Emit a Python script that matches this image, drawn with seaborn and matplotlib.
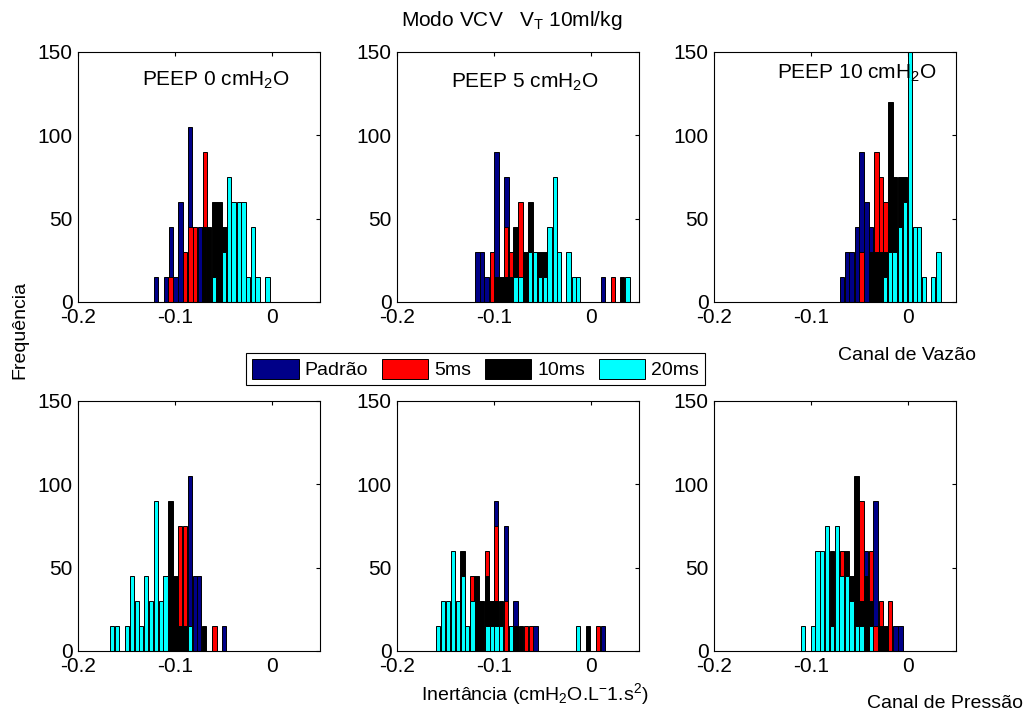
import numpy as np
import pandas as pd
import matplotlib
matplotlib.use('Agg')
import matplotlib.pyplot as plt
from matplotlib.patches import Patch
import seaborn as sns

# series names and colours (MATLAB-like)
series = ['Padrão', '5ms', '10ms', '20ms']
cores = ['#000088', '#ff0000', '#000000', '#00ffff']

# bin centres and counts, one sublist per panel
# panels: 0-2 = Canal de Vazão (PEEP 0, 5, 10), 3-5 = Canal de Pressão
padrao_x = [
    [-0.1196, -0.1093, -0.1041, -0.0993, -0.0941, -0.0842, -0.0742],
    [-0.1168, -0.1124, -0.1075, -0.0972, -0.0869, 0.0127],
    [-0.068, -0.0629, -0.058, -0.0526, -0.0478, -0.0426, -0.0378],
    [-0.0845, -0.079, -0.075, -0.0491],
    [-0.0976, -0.0873, -0.0777, -0.057, 0.0127],
    [-0.043, -0.033, -0.0124, -0.0072],
]
padrao_n = [
    [15, 15, 45, 15, 60, 105, 45],
    [30, 30, 15, 90, 75, 15],
    [15, 30, 30, 45, 90, 60, 45],
    [105, 45, 45, 15],
    [90, 75, 30, 15, 15],
    [60, 90, 15, 15],
]
ms5_x = [
    [-0.1044, -0.0894, -0.0838, -0.079, -0.0688],
    [-0.1021, -0.0876, -0.0825, -0.0725, 0.023],
    [-0.0478, -0.0323, -0.0278, -0.023],
    [-0.0945, -0.0897, -0.0591],
    [-0.1223, -0.1072, -0.1021, -0.0976, -0.0873, -0.067, -0.0619, 0.0079],
    [-0.068, -0.0478, -0.0381, -0.033, -0.0275, -0.0182],
]
ms5_n = [
    [15, 30, 45, 45, 90],
    [30, 45, 30, 60, 15],
    [30, 90, 75, 60],
    [75, 75, 15],
    [45, 60, 30, 75, 30, 15, 15, 15],
    [60, 90, 60, 15, 30, 30],
]
ms10_x = [
    [-0.0698, -0.0646, -0.0591, -0.0539, -0.0488],
    [-0.0972, -0.0921, -0.0869, -0.0818, -0.0777, -0.0725, -0.0674, -0.0622,
     -0.057, -0.0519, -0.0467, 0.0327],
    [-0.0378, -0.0323, -0.0278, -0.023, -0.0178, -0.0127, -0.0075, -0.0024],
    [-0.1096, -0.1045, -0.0993, -0.0945, -0.0897, -0.0698],
    [-0.1323, -0.1223, -0.1179, -0.1127, -0.1072, -0.1021, -0.0976, -0.0928,
     -0.0825, -0.0773, -0.0722, -0.0024],
    [-0.078, -0.0632, -0.058, -0.0529, -0.0478, -0.043, -0.0381, -0.0275, -0.0227],
]
ms10_n = [
    [45, 45, 60, 60, 45],
    [15, 15, 15, 15, 45, 15, 30, 60, 30, 30, 30, 15],
    [30, 30, 30, 30, 120, 75, 75, 75],
    [45, 90, 45, 15, 15, 15],
    [60, 30, 45, 30, 45, 30, 30, 30, 15, 15, 15, 15],
    [60, 60, 45, 105, 30, 45, 30, 15, 15],
]
ms20_x = [
    [-0.0598, -0.0495, -0.0443, -0.0392, -0.034, -0.0289, -0.0244, -0.0189,
     -0.0144, -0.0041],
    [-0.0777, -0.0725, -0.0625, -0.0574, -0.0522, -0.0471, -0.0423, -0.0371,
     -0.0326, -0.0227, -0.0172, -0.0127, 0.0381],
    [-0.0234, -0.0182, -0.0134, -0.0079, -0.0028, 0.0024, 0.0075, 0.012,
     0.0172, 0.0265, 0.032],
    [-0.165, -0.1598, -0.1495, -0.1443, -0.1392, -0.1347, -0.1299, -0.1247,
     -0.1196, -0.1144, -0.1096, -0.0842],
    [-0.1574, -0.1523, -0.1471, -0.142, -0.1368, -0.132, -0.1275, -0.122,
     -0.1065, -0.1017, -0.0973, -0.0924, -0.0821, -0.0127],
    [-0.1082, -0.0979, -0.0931, -0.0883, -0.0835, -0.0784, -0.0732, -0.0684,
     -0.0629, -0.058, -0.0526, -0.0478, -0.0381],
]
ms20_n = [
    [15, 30, 75, 60, 60, 60, 15, 45, 15, 15],
    [15, 15, 30, 30, 15, 15, 45, 75, 30, 30, 15, 15, 15],
    [15, 30, 30, 45, 60, 160, 45, 45, 15, 15, 30],
    [15, 15, 15, 45, 30, 15, 45, 30, 90, 30, 45, 15],
    [15, 30, 30, 60, 30, 45, 15, 30, 15, 15, 15, 15, 15, 15],
    [15, 15, 60, 60, 75, 15, 75, 45, 45, 30, 15, 15, 15],
]

peep_labels = ['PEEP 0 cmH$_\\mathrm{2}$O', 'PEEP 5 cmH$_\\mathrm{2}$O',
               'PEEP 10 cmH$_\\mathrm{2}$O']
x_ticks = [-0.2, -0.1, 0]
x_ticklabels = ['-0.2', '-0.1', '0']
y_ticks = [0, 50, 100, 150]


def desenha_serie(ax, centros, contagens, cor, w=0.0045):
    c = np.asarray(centros, dtype=float)
    n = np.asarray(contagens, dtype=float)
    ordem = np.argsort(c)
    c, n = c[ordem], n[ordem]
    esq = c - w / 2
    dir_ = c + w / 2
    for i in range(1, len(c)):
        if esq[i] < dir_[i - 1]:
            meio = (c[i] + c[i - 1]) / 2
            dir_[i - 1] = meio
            esq[i] = meio
    bordas = np.unique(np.concatenate([esq, dir_])).tolist()
    df = pd.DataFrame({'centro': c, 'contagem': n})
    sns.histplot(data=df, x='centro', weights='contagem', bins=bordas,
                 color=cor, edgecolor='black', linewidth=0.7, alpha=1, ax=ax)


def main():
    sns.set_style('white')
    plt.rcParams['font.family'] = ['Liberation Sans', 'DejaVu Sans']
    plt.rcParams['mathtext.fontset'] = 'custom'
    plt.rcParams['mathtext.rm'] = 'Liberation Sans'
    plt.rcParams['mathtext.it'] = 'Liberation Sans:italic'
    plt.rcParams['font.size'] = 14
    plt.rcParams['text.color'] = 'black'
    plt.rcParams['axes.labelcolor'] = 'black'
    plt.rcParams['xtick.color'] = 'black'
    plt.rcParams['ytick.color'] = 'black'

    W, H = 1031, 713
    fig = plt.figure(figsize=(W / 100, H / 100), dpi=100)
    fig.patch.set_facecolor('white')

    lefts = [78, 397, 714]
    bottoms = [302, 651]
    ax_w, ax_h = 242, 250

    todos_x = [padrao_x, ms5_x, ms10_x, ms20_x]
    todos_n = [padrao_n, ms5_n, ms10_n, ms20_n]
    peep_pos = [(-0.0577, 133), (-0.068, 132), (-0.0526, 137)]

    for p in range(6):
        linha, col = divmod(p, 3)
        ax = fig.add_axes([lefts[col] / W, 1 - bottoms[linha] / H, ax_w / W, ax_h / H])
        for s in range(4):
            desenha_serie(ax, todos_x[s][p], todos_n[s][p], cores[s])
        ax.set_xlim(-0.2, 0.05)
        ax.set_ylim(0, 150)
        ax.set_xticks(x_ticks)
        ax.set_xticklabels(x_ticklabels)
        ax.set_yticks(y_ticks)
        ax.set_xlabel('')
        ax.set_ylabel('')
        ax.tick_params(direction='in', top=True, right=True, length=3,
                       labelsize=15, pad=4, colors='black')
        for sp in ax.spines.values():
            sp.set_visible(True)
            sp.set_color('black')
            sp.set_linewidth(0.8)
        if linha == 0:
            tx, ty = peep_pos[col]
            ax.text(tx, ty, peep_labels[col], ha='center', va='center', fontsize=15)

    fig.text(512 / W, 1 - 20 / H, 'Modo VCV   V$_\\mathrm{T}$ 10ml/kg',
             ha='center', va='center', fontsize=15)
    fig.text(20 / W, 1 - 330 / H, 'Frequência', rotation=90,
             ha='center', va='center', fontsize=14)
    fig.text(907 / W, 1 - 355 / H, 'Canal de Vazão', ha='center', va='center', fontsize=14)
    fig.text(535 / W, 1 - 694 / H, 'Inertância (cmH$_\\mathrm{2}$O.L$^\\mathrm{-}$1.s$^\\mathrm{2}$)',
             ha='center', va='center', fontsize=14)
    fig.text(945 / W, 1 - 703 / H, 'Canal de Pressão', ha='center', va='center', fontsize=14)

    handles = [Patch(facecolor=c, edgecolor='black', linewidth=0.7) for c in cores]
    leg = fig.legend(handles, series, loc='center', ncol=4,
                     bbox_to_anchor=(475.5 / W, 1 - 369 / H),
                     fancybox=False, framealpha=1, edgecolor='black',
                     handlelength=2.4, handleheight=1.2, handletextpad=0.3,
                     columnspacing=0.7, borderpad=0.3, borderaxespad=0,
                     fontsize=14)
    leg.get_frame().set_linewidth(0.8)
    leg.set_zorder(10)

    fig.savefig('out.png', dpi=100)


if __name__ == '__main__':
    main()
